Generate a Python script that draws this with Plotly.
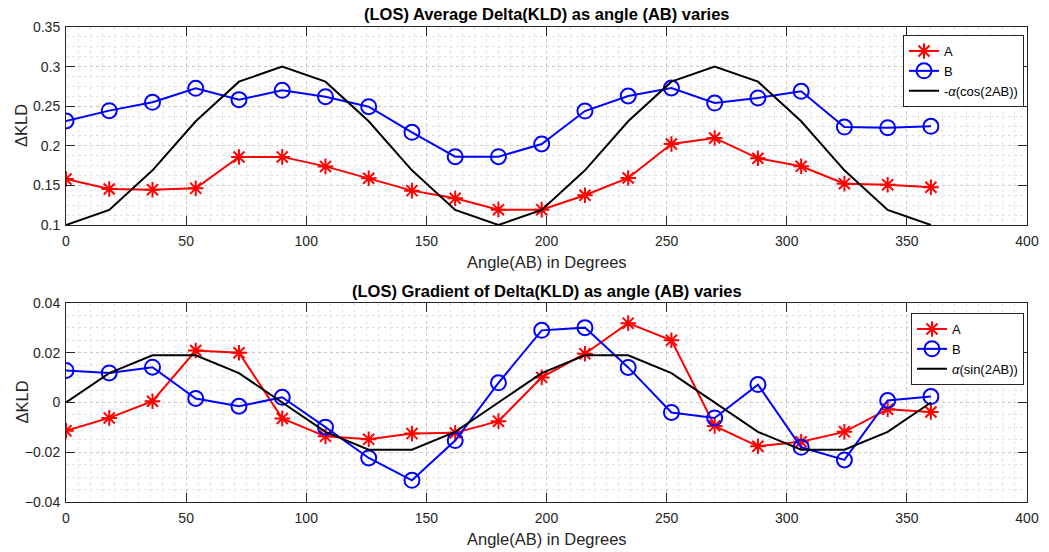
import plotly.graph_objects as go

angles = [0, 18, 36, 54, 72, 90, 108, 126, 144, 162, 180, 198, 216, 234, 252, 270, 288, 306, 324, 342, 360]

avg_A = [0.158, 0.1455, 0.1446, 0.1463, 0.1859, 0.186, 0.174, 0.159, 0.1434, 0.1337, 0.1194,
         0.1194, 0.1375, 0.1594, 0.2023, 0.2099, 0.1842, 0.1741, 0.1522, 0.1509, 0.1476]
avg_B = [0.2313, 0.2444, 0.2549, 0.2726, 0.2583, 0.2700, 0.2620, 0.2494, 0.2170, 0.1863, 0.1863,
         0.2023, 0.2439, 0.2629, 0.2730, 0.2540, 0.2604, 0.2688, 0.2237, 0.2229, 0.2246]
avg_ref = [0.1, 0.119, 0.169, 0.231, 0.281, 0.3, 0.281, 0.231, 0.169, 0.119, 0.1,
           0.119, 0.169, 0.231, 0.281, 0.3, 0.281, 0.231, 0.169, 0.119, 0.1]

grad_A = [-0.0114, -0.0062, 0.0005, 0.0209, 0.0200, -0.0064, -0.0136, -0.0148, -0.0125, -0.0122, -0.0075,
          0.0101, 0.0196, 0.0319, 0.0250, -0.0094, -0.0176, -0.0158, -0.0118, -0.0027, -0.0038]
grad_B = [0.0129, 0.0119, 0.0142, 0.0016, -0.0015, 0.0021, -0.0099, -0.0223, -0.0313, -0.0153, 0.0079,
          0.0290, 0.0301, 0.0141, -0.0040, -0.0062, 0.0072, -0.0180, -0.0231, 0.0008, 0.0024]
grad_ref = [0, 0.0118, 0.019, 0.019, 0.0118, 0, -0.0118, -0.019, -0.019, -0.0118, 0,
            0.0118, 0.019, 0.019, 0.0118, 0, -0.0118, -0.019, -0.019, -0.0118, 0]

titles = ["(LOS) Average Delta(KLD) as angle (AB) varies",
          "(LOS) Gradient of Delta(KLD) as angle (AB) varies"]
xlabel = "Angle(AB) in Degrees"
ylabel = "\u0394KLD"
ref_names = ["-<i>\u03b1</i>(cos(2AB))", "<i>\u03b1</i>(sin(2AB))"]

W, H = 1049, 552
FONT = "Liberation Sans, Arial, sans-serif"
AX = "#262626"

x0, x1 = 66, 1027
top_px = (27, 225)
bot_px = (303, 502)

def ydom(p):
    return [1 - p[1] / H, 1 - p[0] / H]

fig = go.Figure()

def add_series(xa, ya, A, B, R, rname, leg):
    fig.add_trace(go.Scatter(x=angles, y=A, name="A", mode="lines+markers", xaxis=xa, yaxis=ya,
                             line=dict(color="#ff0000", width=2),
                             marker=dict(symbol="asterisk-open", size=13, color="#ff0000",
                                         line=dict(color="#ff0000", width=2)),
                             legend=leg))
    fig.add_trace(go.Scatter(x=angles, y=B, name="B", mode="lines+markers", xaxis=xa, yaxis=ya,
                             line=dict(color="#0000ff", width=2),
                             marker=dict(symbol="circle-open", size=15, color="#0000ff",
                                         line=dict(color="#0000ff", width=2)),
                             legend=leg))
    fig.add_trace(go.Scatter(x=angles, y=R, name=rname, mode="lines", xaxis=xa, yaxis=ya,
                             line=dict(color="#000000", width=2), legend=leg))

add_series("x", "y", avg_A, avg_B, avg_ref, ref_names[0], "legend")
add_series("x2", "y2", grad_A, grad_B, grad_ref, ref_names[1], "legend2")

common_x = dict(range=[0, 400], dtick=50, tick0=0, showline=True, linecolor=AX, linewidth=1,
                mirror="allticks", ticks="inside", ticklen=9, tickcolor=AX, ticklabelstandoff=3,
                showgrid=True, gridcolor="#c8c8c8", griddash="dot", gridwidth=1,
                minor=dict(dtick=5, showgrid=True, gridcolor="#e3e3e3", griddash="dot", ticks=""),
                zeroline=False, tickfont=dict(size=14, color=AX, family=FONT),
                domain=[x0 / W, x1 / W], automargin=False)
common_y = dict(showline=True, linecolor=AX, linewidth=1, mirror="allticks", ticks="inside",
                ticklen=9, tickcolor=AX, showgrid=True, gridcolor="#c8c8c8", griddash="dot",
                zeroline=False, tickfont=dict(size=14, color=AX, family=FONT),
                ticklabelstandoff=2, automargin=False, tickformat="~g")

legend_common = dict(xanchor="right", yanchor="top", bordercolor=AX, borderwidth=1,
                     bgcolor="white", font=dict(size=13, family=FONT, color="#000000"),
                     tracegroupgap=0, itemwidth=30)

fig.update_layout(
    width=W, height=H, margin=dict(l=0, r=0, t=0, b=0, autoexpand=False),
    paper_bgcolor="white", plot_bgcolor="white",
    font=dict(family=FONT, color=AX),
    xaxis=dict(**common_x, anchor="y"),
    xaxis2=dict(**common_x, anchor="y2"),
    yaxis=dict(**common_y, anchor="x", domain=ydom(top_px), range=[0.1, 0.35], dtick=0.05,
               tick0=0.1,
               minor=dict(dtick=0.0125, showgrid=True, gridcolor="#e3e3e3", griddash="dot", ticks="")),
    yaxis2=dict(**common_y, anchor="x2", domain=ydom(bot_px), range=[-0.04, 0.04], dtick=0.02,
                tick0=0,
                minor=dict(dtick=0.005, showgrid=True, gridcolor="#e3e3e3", griddash="dot", ticks="")),
    legend=dict(x=1024 / W, y=1 - 35 / H, **legend_common),
    legend2=dict(x=1024 / W, y=1 - 313 / H, **legend_common),
    showlegend=True,
)

annotations = []
for t, yc in zip(titles, [14, 291]):
    annotations.append(dict(text="<b>" + t + "</b>", x=(x0 + x1) / 2 / W, y=1 - yc / H,
                            xref="paper", yref="paper", showarrow=False,
                            font=dict(size=16.5, family=FONT, color="#000000"),
                            xanchor="center", yanchor="middle"))
for yc in [262, 539]:
    annotations.append(dict(text=xlabel, x=(x0 + x1) / 2 / W, y=1 - yc / H, xref="paper", yref="paper",
                            showarrow=False, font=dict(size=16.5, family=FONT, color=AX),
                            xanchor="center", yanchor="middle"))
for p in [top_px, bot_px]:
    annotations.append(dict(text=ylabel, x=21 / W, y=1 - (p[0] + p[1]) / 2 / H, xref="paper",
                            yref="paper", showarrow=False, textangle=-90,
                            font=dict(size=16.5, family=FONT, color=AX),
                            xanchor="center", yanchor="middle"))
fig.update_layout(annotations=annotations)

fig.write_html("out.html",
               post_script="document.body.style.margin='0';document.body.style.overflow='hidden';")
